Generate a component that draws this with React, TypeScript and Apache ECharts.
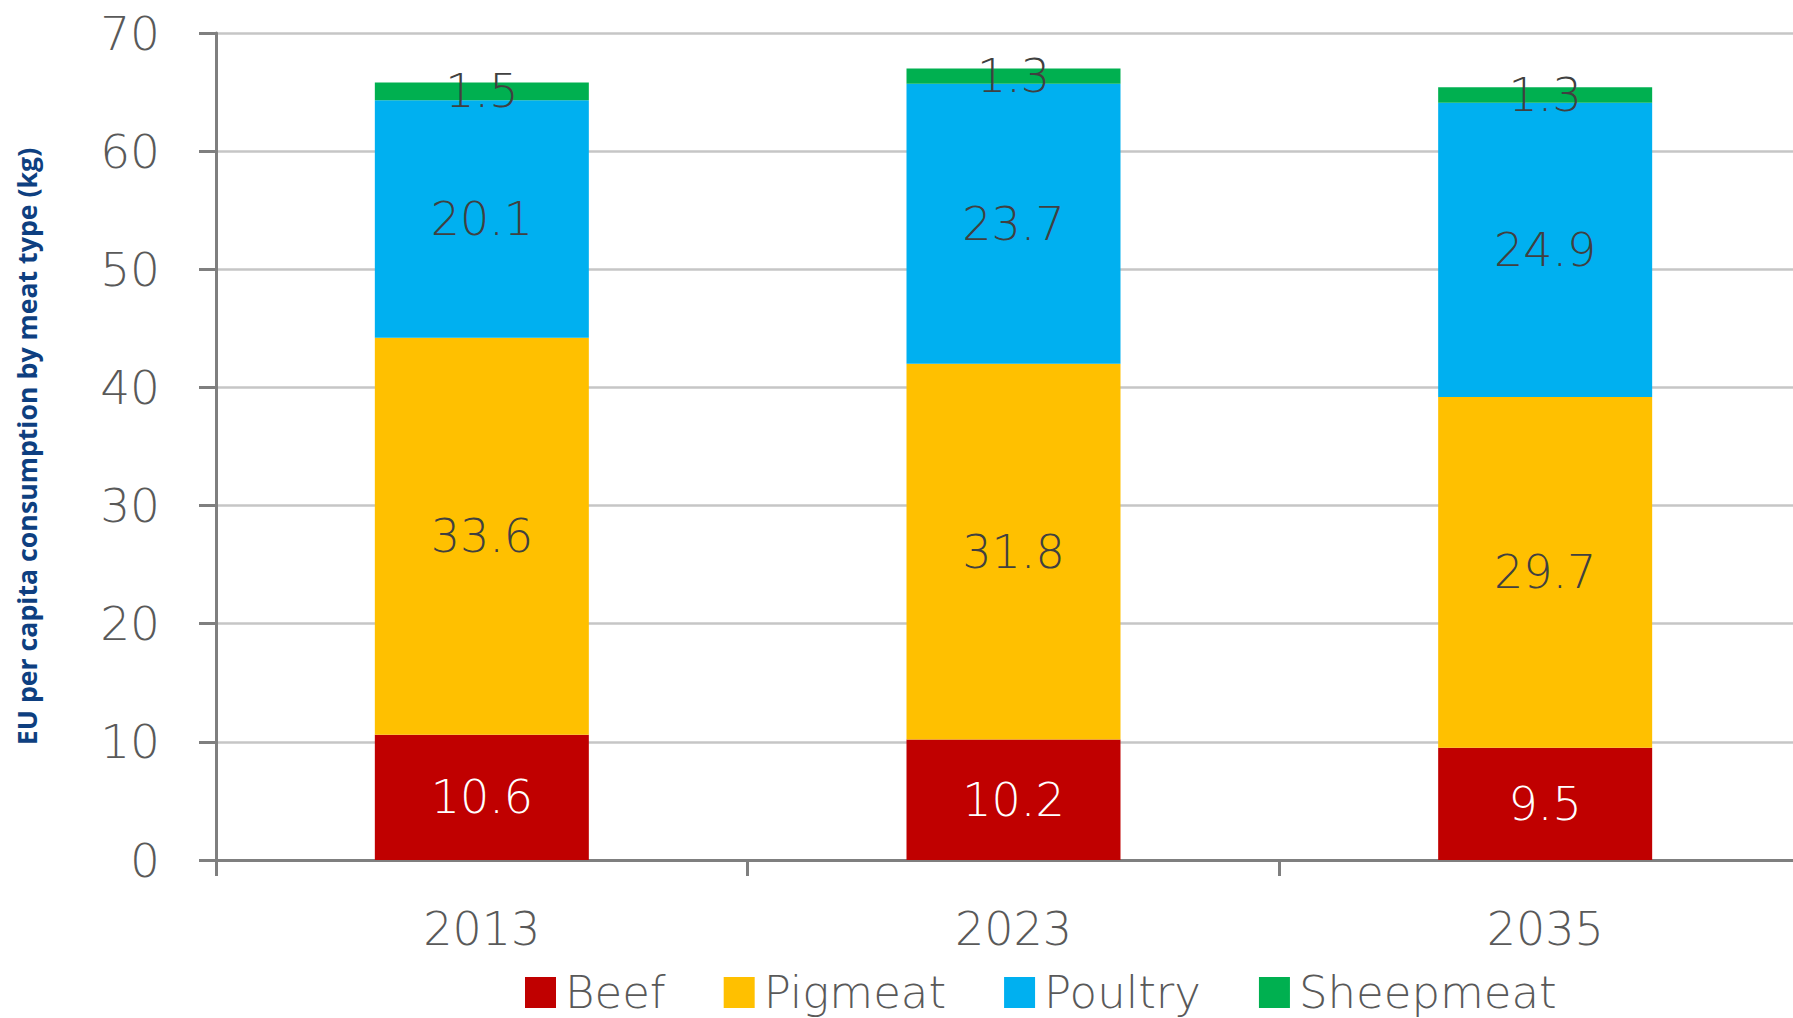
import React, { useEffect, useRef } from "react";
import * as echarts from "echarts";

const categories = ["2013", "2023", "2035"];
const beef = [10.6, 10.2, 9.5];
const pigmeat = [33.6, 31.8, 29.7];
const poultry = [20.1, 23.7, 24.9];
const sheepmeat = [1.5, 1.3, 1.3];
const seriesNames = ["Beef", "Pigmeat", "Poultry", "Sheepmeat"];
const seriesColors = ["#C00000", "#FFC000", "#00B0F0", "#00B050"];
const yTitle = "EU per capita consumption by meat type (kg)";

const FONT = "'DejaVu Sans', sans-serif";

export default function App() {
  const ref = useRef<HTMLDivElement>(null);
  useEffect(() => {
    document.body.style.margin = "0";
    const chart = echarts.init(ref.current!, null, { renderer: "svg" });
    const data = [beef, pigmeat, poultry, sheepmeat];
    chart.setOption({
      animation: false,
      textStyle: { fontFamily: FONT },
      grid: { left: 216, top: 33, height: 827, width: 1595, containLabel: false },
      legend: {
        left: 520,
        top: 965,
        itemWidth: 31,
        itemHeight: 31,
        itemGap: 58,
        icon: "rect",
        textStyle: { fontSize: 45, lineHeight: 32, color: "#595959", fontFamily: FONT, fontWeight: 200, padding: [0, 0, 0, 4] },
        data: seriesNames,
      },
      xAxis: {
        type: "category",
        data: categories,
        axisLine: { lineStyle: { color: "#7f7f7f", width: 3 } },
        axisTick: { show: true, length: 16, lineStyle: { color: "#7f7f7f", width: 3 } },
        axisLabel: { fontSize: 46, color: "#595959", margin: 46, fontFamily: FONT, fontWeight: 200 },
      },
      yAxis: {
        type: "value",
        min: 0,
        max: 70,
        interval: 10,
        name: yTitle,
        nameLocation: "middle",
        nameGap: 176,
        nameTextStyle: { fontSize: 26.7, fontWeight: "bold", color: "#0E3F80", fontFamily: "'Open Sans', sans-serif" },
        axisLine: { show: true, lineStyle: { color: "#7f7f7f", width: 3 } },
        axisTick: { show: true, length: 17, lineStyle: { color: "#7f7f7f", width: 3 } },
        splitLine: { lineStyle: { color: "#c6c6c6", width: 2.5 } },
        axisLabel: { fontSize: 47, color: "#595959", margin: 56, fontFamily: FONT, fontWeight: 200 },
      },
      series: seriesNames.map((name, i) => ({
        name,
        type: "bar",
        stack: "total",
        barWidth: 214,
        data: data[i],
        itemStyle: { color: seriesColors[i] },
        label: {
          show: true,
          position: "inside",
          fontSize: 46,
          fontFamily: FONT,
          fontWeight: 200,
          color: i === 0 ? "#ffffff" : "#404040",
          formatter: (p: any) => p.value.toFixed(1),
        },
      })),
    });
    return () => chart.dispose();
  }, []);
  return (
    <div style={{ width: 1793, height: 1018, overflow: "hidden" }}>
      <div ref={ref} style={{ width: 1830, height: 1018 }} />
    </div>
  );
}
